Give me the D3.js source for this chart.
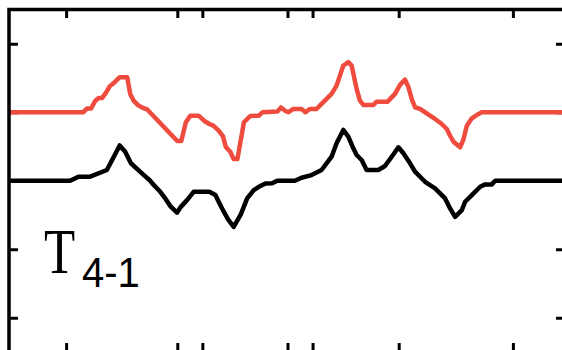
<!DOCTYPE html>
<html>
<head>
<meta charset="utf-8">
<script src="https://cdn.jsdelivr.net/npm/d3@7"></script>
<style>
  html, body { margin: 0; padding: 0; background: #fff; }
  svg { display: block; }
</style>
</head>
<body>
<svg id="chart" width="562" height="350"></svg>
<script>
// Upper trace (drawn shifted up by one unit), as [position, deviation]
const upperTrace = [
  [0,0],[74,0],[78,0.056],[82,0.056],[86,0.165],[89.5,0.209],[93,0.209],[97,0.29],
  [100.5,0.378],[105.5,0.439],[110.5,0.512],[118,0.512],[121,0.268],[124.3,0.17],
  [129.3,0.097],[134.3,0.059],[138,0.041],[168,-0.42],[172,-0.42],[176.5,-0.146],
  [181,-0.05],[189.3,-0.05],[195,-0.127],[200,-0.171],[204,-0.196],[209.3,-0.267],
  [213.5,-0.347],[216.5,-0.508],[221,-0.581],[224.3,-0.684],[228,-0.684],[234.5,-0.146],
  [241,-0.054],[249.5,-0.05],[253,0],[268,0.012],[271.5,0.07],[276,0.019],[279,0],
  [283.7,0.048],[292,0.048],[296,0],[300.3,0.048],[307,0.048],[312,0.122],[322,0.268],
  [327,0.389],[333.7,0.682],[338.7,0.732],[342,0.682],[347,0.341],[350.3,0.17],
  [353.7,0.107],[363.7,0.107],[367,0.155],[378,0.155],[385.3,0.268],[390.3,0.4],
  [395.3,0.477],[398.7,0.366],[402,0.195],[405.3,0.073],[410.3,0.048],[415.3,0],
  [420.3,-0.05],[425.3,-0.098],[432,-0.171],[437,-0.245],[440.3,-0.343],[443.7,-0.43],
  [450.3,-0.512],[453.7,-0.391],[457,-0.196],[462,-0.088],[468.7,-0.025],[472,0],[555,0]
];

// Lower trace, as [position, deviation]
const lowerTrace = [
  [0,0],[61,0],[69.3,0.059],[81,0.059],[97.7,0.157],[110.5,0.515],[116,0.425],
  [121.7,0.255],[132.7,0.108],[141,0],[143,-0.038],[151,-0.161],[156,-0.258],[161,-0.37],
  [167.7,-0.466],[171.5,-0.381],[177.7,-0.283],[184.3,-0.161],[200,-0.161],[206,-0.209],
  [209.3,-0.307],[212.7,-0.404],[218.5,-0.561],[224.3,-0.673],[231.5,-0.488],
  [237.7,-0.258],[244.3,-0.136],[249,-0.092],[256,-0.041],[262.7,-0.038],[267.7,0],
  [285.3,0],[292,0.044],[302,0.083],[312,0.157],[322,0.351],[327,0.548],[333.7,0.742],
  [338.7,0.644],[343.7,0.474],[347,0.376],[352,0.303],[357,0.157],[368.7,0.157],
  [375.3,0.215],[382,0.351],[388.7,0.489],[393.7,0.401],[400.3,0.255],[405.3,0.132],
  [415.3,-0.015],[425.3,-0.111],[435.3,-0.258],[440.3,-0.404],[445.3,-0.527],[452,-0.429],
  [455.3,-0.307],[462,-0.209],[470.3,-0.088],[475.3,-0.053],[482,-0.053],[485.3,0],[555,0]
];

// Tick positions along both axes
const xTickValues = [57, 168, 193, 278, 303, 389, 503];
const yTickValues = [-2, -1, 0, 1, 2];

const upperOffset = 1;

const svg = d3.select("#chart");
const plotLeft = 9, plotRight = 565, plotTop = 9.5, plotBottom = 352;

const x = d3.scaleLinear().domain([0, 555]).range([plotLeft, plotRight]);
const y = d3.scaleLinear().domain([-2.5, 2.5]).range([plotBottom, plotTop]);

function styleAxis(g) {
  g.select(".domain").remove();
  g.selectAll(".tick line").attr("stroke", "#000").attr("stroke-width", 3);
  g.selectAll(".tick text").remove();
}

svg.append("g").attr("transform", `translate(0,${plotTop})`)
  .call(d3.axisTop(x).tickValues(xTickValues).tickSize(-8.5)).call(styleAxis);
svg.append("g").attr("transform", `translate(0,${plotBottom})`)
  .call(d3.axisBottom(x).tickValues(xTickValues).tickSize(-9)).call(styleAxis);
svg.append("g").attr("transform", `translate(${plotLeft},0)`)
  .call(d3.axisLeft(y).tickValues(yTickValues).tickSize(-9)).call(styleAxis);
svg.append("g").attr("transform", `translate(${plotRight},0)`)
  .call(d3.axisRight(y).tickValues(yTickValues).tickSize(-9)).call(styleAxis);

const line = d3.line().x(d => x(d[0])).y(d => y(d[1]));

svg.append("path")
  .datum(upperTrace.map(d => [d[0], d[1] + upperOffset]))
  .attr("d", line)
  .attr("fill", "none")
  .attr("stroke", "#ef4b3e")
  .attr("stroke-width", 4.5)
  .attr("stroke-linejoin", "round");

svg.append("path")
  .datum(lowerTrace)
  .attr("d", line)
  .attr("fill", "none")
  .attr("stroke", "#000")
  .attr("stroke-width", 4.5)
  .attr("stroke-linejoin", "round");

// Frame
svg.append("rect")
  .attr("x", plotLeft).attr("y", plotTop)
  .attr("width", plotRight - plotLeft).attr("height", plotBottom - plotTop)
  .attr("fill", "none").attr("stroke", "#000").attr("stroke-width", 3.5);

// Panel label
svg.append("text")
  .attr("transform", "translate(44,273) scale(1,1.24)")
  .attr("font-family", "Liberation Serif, Times New Roman, serif")
  .attr("font-size", 51)
  .attr("fill", "#000")
  .text("T");
svg.append("text")
  .attr("transform", "translate(82,287) scale(1,1.07)")
  .attr("font-family", "Liberation Sans, Arial, sans-serif")
  .attr("font-size", 40)
  .attr("fill", "#000")
  .text("4-1");
</script>
</body>
</html>
